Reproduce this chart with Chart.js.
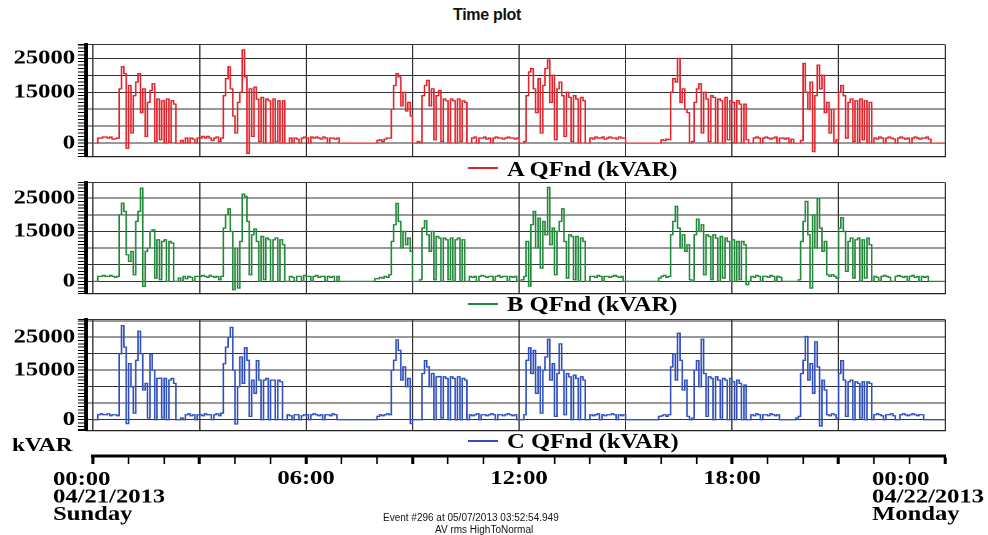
<!DOCTYPE html>
<html lang="en">
<head>
<meta charset="utf-8">
<title>Time plot</title>
<script src="https://cdn.jsdelivr.net/npm/chart.js@4.4.1/dist/chart.umd.min.js"></script>
<style>
  html, body { margin: 0; padding: 0; background: #fff; }
  #page { position: relative; width: 988px; height: 535px; overflow: hidden; background: #fff; }
  .box { position: absolute; left: 0; transform-origin: 0 0; transform: scaleX(1.23); }
  .serif {
    position: absolute; white-space: nowrap; color: #000;
    font-family: 'Liberation Serif', 'Times New Roman', serif;
    font-weight: bold; font-size: 20px; line-height: 20px;
    transform-origin: 0 0; transform: scaleX(1.23);
  }
  .key { position: absolute; left: 468px; width: 30px; height: 2px; }
  .sans { position: absolute; white-space: nowrap; color: #111; font-family: 'Liberation Sans', Arial, sans-serif; }
</style>
</head>
<body>
<div id="page">
  <div class="sans" style="left:453px; top:6px; font-size:16px; font-weight:bold; letter-spacing:-0.3px;">Time plot</div>

  <div class="box" id="boxA"><canvas id="chartA"></canvas></div>
  <div class="key" style="top:167px; background:#e3232b;"></div>
  <div class="serif" style="left:507px; top:159px;">A QFnd (kVAR)</div>

  <div class="box" id="boxB"><canvas id="chartB"></canvas></div>
  <div class="key" style="top:303px; background:#22883a;"></div>
  <div class="serif" style="left:507px; top:294px;">B QFnd (kVAR)</div>

  <div class="box" id="boxC"><canvas id="chartC"></canvas></div>
  <div class="key" style="top:440px; background:#2f4fbf;"></div>
  <div class="serif" style="left:507px; top:431px;">C QFnd (kVAR)</div>

  <div class="serif" style="left:12px; top:435px; font-size:19px;">kVAR</div>

  <div class="box" id="boxAxis"><canvas id="chartAxis"></canvas></div>

  <div class="sans" style="left:383px; top:512px; font-size:10px;">Event #296 at 05/07/2013 03:52:54.949</div>
  <div class="sans" style="left:435px; top:524px; font-size:10px;">AV rms HighToNormal</div>
</div>

<script>
// one sample every 4 minutes, 00:00 to 00:00 next day, one row per hour
const SAMPLE_MINUTES = 4;

const qfndA = [
  0, 0, 1500, 1500, 1800, 1800, 1500, 1800, 1200, 1300, 1500, 16000, 22500, 20500, -1500,
  17000, 3000, 14000, 18000, 20500, 9000, 16000, 2000, 12000, 15500, 17500, 500, 13000, 1000, 12500,
  0, 13000, 200, 12500, 11500, 0, 0, 800, 0, 1500, 0, 1500, 1200, 0, 1500,
  1500, 2000, 1500, 2000, 1500, 800, 1500, 1800, 500, 1500, 14000, 19000, 22500, 16000, 8000,
  3000, 12000, 15000, 27500, 19500, -3000, 16000, 2000, 16500, 13000, 500, 13500, 0, 13000, 12500,
  0, 13000, 500, 12500, 0, 12500, 0, 0, 1500, 0, 1500, 1200, 0, 1500, 1800,
  1500, 0, 1800, 1500, 1800, 1500, 1200, 1800, 1500, 0, 1500, 1500, 1200, 1500, 0,
  0, 0, 0, 0, 0, 0, 0, 0, 0, 0, 0, 0, 0, 0, 0,
  800, 1000, 500, 1200, 1500, 1500, 10000, 17000, 20500, 19500, 11000, 15000, 9500, 12000, 8000,
  0, 0, 500, 0, 14000, 17000, 18500, 11000, 16000, 1000, 14000, 15500, 500, 13000, 12500,
  0, 13000, 12500, 0, 13000, 500, 12500, 12000, 0, 0, 1500, 1800, 0, 1500, 1500,
  1800, 1200, 1500, 0, 1500, 1800, 1500, 1500, 1200, 1500, 1800, 1500, 1500, 1200, 1500,
  0, 0, 500, 14000, 21000, 22000, 16000, 9000, 19000, 3000, 17000, 22000, 24500, 12000, 20000,
  1000, 16000, 18000, 14000, 2000, 15000, 13500, 500, 14000, 13000, 0, 13500, 12500, 0, 0,
  1500, 1200, 1800, 1500, 1500, 1800, 1200, 1500, 1800, 1500, 1500, 1200, 1800, 1500, 1500,
  0, 0, 0, 0, 0, 0, 0, 0, 0, 0, 0, 0, 0, 0, 0,
  1000, 800, 1200, 1000, 15000, 19000, 18000, 25000, 12000, 16000, 10000, 9000, 0, 500, 12000,
  16000, 17500, 3000, 15000, 13000, 500, 14000, 13500, 0, 13000, 12500, 0, 13500, 1000, 12500,
  12000, 0, 12500, 11500, 0, 11500, 1000, 0, 0, 1500, 1800, 1500, 0, 1500, 1800,
  1500, 1200, 1500, 1800, 0, 1500, 1500, 1200, 1500, 0, 1200, 0, 0, 0, 800,
  23500, 15000, 10000, 18000, -2500, 14000, 23000, 16000, 20000, 9000, 12000, 3000, 10000, 0, 1000,
  15000, 17000, 14000, 1500, 12000, 13000, 500, 12500, 0, 13000, 1000, 12500, 0, 12000, 0,
  1500, 1200, 1800, 1500, 0, 1500, 1800, 1500, 1200, 0, 1500, 1800, 1500, 1200, 1500,
  0, 1500, 1800, 1500, 1200, 1500, 1500, 1800, 1200, 0, 0, 0, 0, 0, 0,
  0
];

const qfndB = [
  0, 0, 1500, 1500, 1800, 1500, 1500, 1800, 1500, 1200, 1500, 20000, 23500, 21000, 8000,
  6000, 9000, 2000, 18000, 21000, 28000, -1500, 9000, 10000, 15000, 15500, 1000, 12500, 500, 12000,
  12500, 0, 12000, 11500, 0, 0, 1000, 0, 1500, 800, 1500, 1200, 0, 1500, 1500,
  1500, 1800, 1500, 1200, 1800, 1500, 1200, 1500, 500, 1500, 16000, 20000, 21800, 15000, -2500,
  10000, -2000, 12000, 26200, 25500, 18000, 2000, 14000, 15700, 12000, 0, 13500, 500, 13000, 12500,
  0, 12500, 13000, 0, 12500, 11000, 0, 0, 1500, 1200, 0, 1500, 1500, 0, 1800,
  1500, 1500, 0, 1500, 1800, 1200, 1500, 1500, 0, 1500, 1200, 1500, 0, 1500, 0,
  0, 0, 0, 0, 0, 0, 0, 0, 0, 0, 0, 0, 0, 0, 800,
  800, 1200, 1000, 1500, 1200, 2000, 12000, 17000, 23400, 18000, 10000, 15000, 11000, 13000, 9000,
  0, 0, 0, 500, 16000, 18200, 14000, 9000, 15000, 500, 13500, 13000, 0, 13000, 12500,
  500, 13000, 0, 12500, 13000, 0, 12500, 0, 0, 1500, 1200, 1500, 0, 1500, 1800,
  1500, 1200, 1500, 1500, 0, 1500, 1800, 1200, 1500, 1500, 0, 1500, 1200, 1500, 0,
  0, 500, 1500, 12000, -1400, 17000, 21000, 10000, 19000, 4000, 18000, 14000, 28200, 11000, 16000,
  2000, 15000, 18000, 21800, 12000, 1000, 14000, 13500, 500, 13500, 0, 13000, 12000, 0, 0,
  1500, 1500, 1200, 1800, 1500, 0, 1500, 1500, 1200, 1500, 1800, 1500, 1200, 1500, 0,
  0, 0, 0, 0, 0, 0, 0, 0, 0, 0, 0, 0, 0, 0, 1000,
  1500, 1800, 1200, 1500, 14000, 18000, 22500, 16000, 10000, 14000, 9000, 11000, 500, 0, 14000,
  18700, 15000, 17000, 2000, 14000, 13500, 500, 14000, 13000, 0, 13500, 1000, 13000, 12000, 0,
  12500, 0, 12000, 500, 12000, 11000, -1000, 0, 1500, 1200, 1800, 1500, 0, 1500, 1500,
  1200, 1800, 1500, 0, 1500, 1200, 0, 0, 0, 0, 0, 0, 0, 500, 12000,
  18000, 24000, 14000, -2000, 20000, 10000, 24900, 16000, 9000, 12000, 2000, 1500, 2000, 1500, 1000,
  16000, 19100, 15000, 3000, 12000, 13000, 1000, 12500, 13000, 0, 12500, 1000, 13000, 11000, 0,
  1500, 1200, 0, 1500, 1800, 1500, 1200, 0, 0, 1500, 1800, 1500, 1200, 1500, 0,
  1500, 1800, 1200, 1500, 0, 1500, 1200, 1500, 0, 0, 0, 0, 0, 0, 0,
  0
];

const qfndC = [
  0, 0, 1500, 1800, 1500, 1500, 1800, 1200, 1500, 1500, 1200, 20000, 28500, 22000, -1200,
  17000, 10000, 2000, 18000, 26800, 20000, 9000, 11000, 500, 19900, 15000, 0, 12500, 12600, 500,
  12500, 0, 12000, 12500, 11000, 0, 0, 500, 0, 1500, 1800, 1200, 1500, 0, 1500,
  1500, 1200, 1800, 1500, 1500, 0, 1500, 1800, 1200, 2000, 17000, 22000, 25000, 28000, 15000,
  -1300, 10000, 19000, 11000, 21800, 18000, 1000, 12000, 8000, 17900, 12000, 0, 12000, 12500, 0,
  12000, 12000, 0, 12000, 11500, 0, 0, 1500, 1200, 0, 1500, 1500, 0, 1200, 1500,
  1500, 0, 1500, 1800, 1500, 1200, 1500, 0, 1500, 1500, 1200, 1800, 1500, 0, 0,
  0, 0, 0, 0, 0, 0, 0, 0, 0, 0, 0, 0, 0, 0, 0,
  1000, 1500, 1200, 1500, 1800, 1500, 15000, 18000, 24200, 21000, 12000, 16000, 10000, 12500, -1200,
  0, 0, 0, 0, 14000, 17900, 16000, 10000, 14000, 0, 13000, 13100, 500, 13000, 12500,
  0, 13000, 12500, 0, 13000, 0, 12500, 12000, 0, 1500, 1200, 1500, 1800, 0, 1500,
  1500, 1200, 1500, 1800, 1500, 0, 1500, 1500, 1200, 1500, 1800, 1500, 1200, 1500, 0,
  0, 0, 1500, 18000, 21800, 14000, 21000, 8000, 16000, 2000, 15000, 19000, 24400, 12000, 17000,
  1000, 14000, 23000, 15000, 1500, 14000, 13000, 0, 13500, 12500, 0, 13000, 12000, 0, 0,
  1500, 1200, 1500, 1800, 0, 1500, 1200, 1500, 1500, 1800, 1500, 0, 1500, 1200, 1500,
  0, 0, 0, 0, 0, 0, 0, 0, 0, 0, 0, 0, 0, 0, 1000,
  1200, 1500, 1000, 1500, 16000, 20000, 12000, 26200, 18000, 9000, 12000, 1000, 0, 500, 15000,
  17900, 10000, 24400, 14000, 1000, 13000, 12500, 0, 13000, 12000, 500, 12500, 12000, 0, 12500,
  11500, 0, 12000, 11000, 0, 10500, 0, 0, 1500, 1200, 1800, 1500, 0, 1500, 1500,
  1200, 1800, 1500, 1200, 1500, 0, 0, 0, 0, 0, 0, 0, 500, 1000, 14000,
  18000, 25200, 12000, 17000, 8000, 23600, 16000, -1900, 12000, 9000, 1500, 1200, 1800, 1500, 500,
  14000, 17900, 12000, 1000, 11500, 12000, 0, 11500, 11000, 500, 11500, 0, 11500, 11000, 0,
  1500, 1800, 1500, 1200, 0, 1500, 1500, 1800, 1200, 0, 0, 1500, 1800, 1500, 1200,
  1500, 1800, 1500, 1200, 1500, 1500, 0, 0, 0, 0, 0, 0, 0, 0, 0,
  0
];

// y labels that are printed, vertical grid every 3 hours
const yLabelValues = [0, 15000, 25000];
const gridMinutes = [0, 180, 360, 540, 720, 900, 1080, 1260, 1440];
const hourMinutes = [0, 60, 120, 180, 240, 300, 360, 420, 480, 540, 600, 660, 720,
  780, 840, 900, 960, 1020, 1080, 1140, 1200, 1260, 1320, 1380, 1440];
const midLabelMinutes = [360, 720, 1080];
const midLabels = ['06:00', '12:00', '18:00'];
const endLabelMinutes = [0, 1440];
const endLabels = [
  ['00:00', '04/21/2013', 'Sunday'],
  ['00:00', '04/22/2013', 'Monday'],
];

const SERIF = "'Liberation Serif', 'Times New Roman', serif";
const STRETCH = 1.23;       // the whole picture is widened horizontally
const BOX_W = 803;
const toBox = (px) => px / STRETCH;
const GRID = '#333';

function rulerTicks(min, max) {
  const out = [min];
  for (let v = Math.ceil(min / 1000) * 1000; v < max; v += 1000) {
    if (v > min) out.push(v);
  }
  out.push(max);
  return out;
}

function placeBox(id, top, height) {
  const el = document.getElementById(id);
  el.style.top = top + 'px';
  el.style.height = height + 'px';
  el.style.width = BOX_W + 'px';
}

function makePanel(id, values, color, areaTop, areaBottom, yMin, yMax) {
  placeBox('box' + id, areaTop - 12, areaBottom - areaTop + 24);
  const points = values.map((v, i) => ({ x: i * SAMPLE_MINUTES, y: v }));
  new Chart(document.getElementById('chart' + id), {
    type: 'line',
    data: {
      datasets: [{
        data: points,
        borderColor: color,
        borderWidth: 1.3,
        pointRadius: 0,
        stepped: true,
        fill: false,
      }],
    },
    options: {
      animation: false,
      responsive: true,
      maintainAspectRatio: false,
      devicePixelRatio: 2,
      events: [],
      layout: { padding: { left: 0, right: BOX_W - toBox(945), top: 12, bottom: 12 } },
      plugins: { legend: { display: false }, tooltip: { enabled: false } },
      scales: {
        x: {
          type: 'linear',
          min: -12,
          max: 1440,
          afterBuildTicks: (s) => { s.ticks = gridMinutes.map(v => ({ value: v })); },
          afterFit: (s) => { s.height = 0; },
          ticks: { display: false },
          grid: { color: GRID, lineWidth: 1, drawTicks: false },
          border: { display: true, color: '#222', width: 1.2 },
        },
        y: {
          min: yMin,
          max: yMax,
          afterBuildTicks: (s) => { s.ticks = rulerTicks(yMin, yMax).map(v => ({ value: v })); },
          afterFit: (s) => { s.width = toBox(86); },
          ticks: {
            autoSkip: false,
            padding: toBox(3),
            color: '#000',
            font: { family: SERIF, size: 20, weight: 'bold' },
            callback: (v) => yLabelValues.includes(v) ? String(v) : '',
          },
          grid: {
            color: (c) => (c.tick && (c.tick.value % 5000 === 0 || c.tick.value === yMax)) ? GRID : 'rgba(0,0,0,0)',
            lineWidth: 1,
            tickColor: '#000',
            tickLength: toBox(8),
            tickWidth: 1,
          },
          border: { display: true, color: '#000', width: 3 },
        },
      },
    },
  });
}

makePanel('A', qfndA, '#e3232b', 42, 159, -3950, 29100);
makePanel('B', qfndB, '#22883a', 180, 296, -3650, 29700);
makePanel('C', qfndC, '#2f4fbf', 317, 433, -3300, 30400);

// date labels at both ends of the time axis
const endLabelsPlugin = {
  id: 'endLabels',
  afterDraw(chart) {
    const scale = chart.scales.x;
    const ctx = chart.ctx;
    const shifts = [-40, -73];
    ctx.save();
    ctx.font = 'bold 20px ' + SERIF;
    ctx.fillStyle = '#000';
    ctx.textAlign = 'left';
    ctx.textBaseline = 'alphabetic';
    endLabels.forEach((lines, k) => {
      const x = scale.getPixelForValue(endLabelMinutes[k]) + toBox(shifts[k]);
      lines.forEach((line, j) => ctx.fillText(line, x, scale.top + 29 + j * 17.5));
    });
    ctx.restore();
  },
};

placeBox('boxAxis', 445, 90);
new Chart(document.getElementById('chartAxis'), {
  type: 'line',
  data: { datasets: [] },
  options: {
    animation: false,
    responsive: true,
    maintainAspectRatio: false,
    devicePixelRatio: 2,
    events: [],
    layout: { padding: { left: toBox(93), right: BOX_W - toBox(945), top: 5, bottom: 0 } },
    plugins: { legend: { display: false }, tooltip: { enabled: false } },
    scales: {
      x: {
        type: 'linear',
        min: 0,
        max: 1440,
        afterBuildTicks: (s) => { s.ticks = hourMinutes.map(v => ({ value: v })); },
        afterFit: (s) => { s.height = 79; },
        ticks: {
          autoSkip: false,
          maxRotation: 0,
          padding: 5,
          color: '#000',
          font: { family: SERIF, size: 20, weight: 'bold', lineHeight: 1 },
          callback: (v) => {
            const k = midLabelMinutes.indexOf(v);
            return k >= 0 ? midLabels[k] : '';
          },
        },
        grid: {
          drawOnChartArea: false,
          tickColor: '#000',
          tickLength: 8,
          tickWidth: (c) => (c.tick && c.tick.value % 180 === 0) ? 2.5 : 1.3,
        },
        border: { display: true, color: '#000', width: 3 },
      },
      y: { display: false },
    },
  },
  plugins: [endLabelsPlugin],
});
</script>
</body>
</html>
